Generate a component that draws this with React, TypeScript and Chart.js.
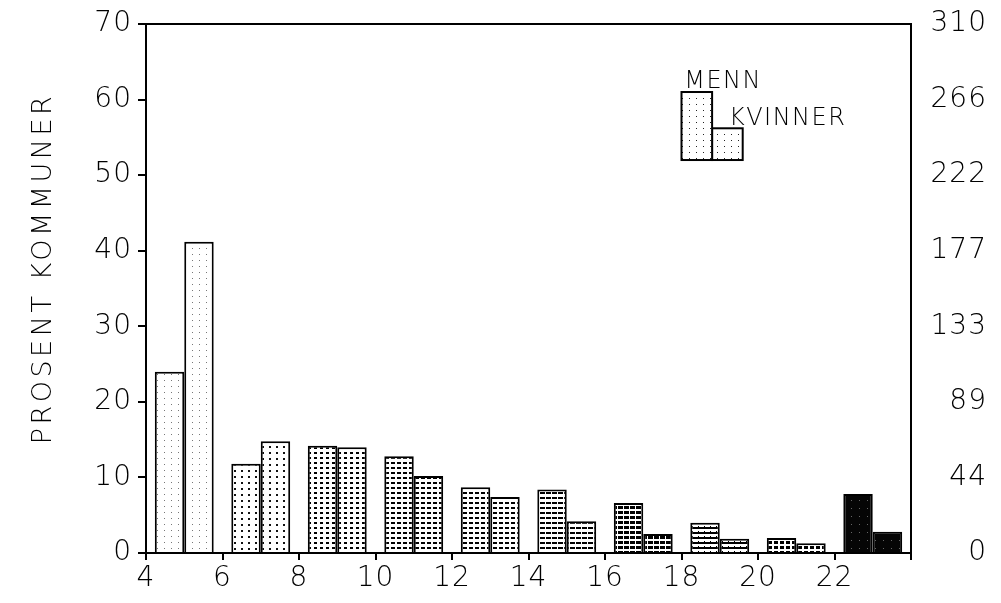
import { useEffect, useRef } from 'react';
import { Chart, registerables } from 'chart.js';

Chart.register(...registerables);

const categories = ['5', '7', '9', '11', '13', '15', '17', '19', '21', '23'];
const menn = [24, 11.8, 14.2, 12.8, 8.7, 8.4, 6.6, 4.0, 2.0, 7.8];
const kvinner = [41.2, 14.8, 14.0, 10.2, 7.4, 4.2, 2.5, 1.9, 1.3, 2.8];
const xTickLabels = ['4', '6', '8', '10', '12', '14', '16', '18', '20', '22', ''];
const rightTickLabels = ['0', '44', '89', '133', '177', '222', '266', '310'];
const yTitle = 'PROSENT KOMMUNER';
const legendLabels = ['MENN', 'KVINNER'];

const FONT = '"DejaVu Sans", sans-serif';

type Mark = [number, number, number, number];

function makeTile(w: number, h: number, bg: string, fg: string, marks: Mark[]) {
  const c = document.createElement('canvas');
  c.width = w;
  c.height = h;
  const g = c.getContext('2d')!;
  g.fillStyle = bg;
  g.fillRect(0, 0, w, h);
  g.fillStyle = fg;
  marks.forEach(([x, y, mw, mh]) => g.fillRect(x, y, mw, mh));
  return c;
}

export default function App() {
  const ref = useRef<HTMLCanvasElement | null>(null);

  useEffect(() => {
    const canvas = ref.current!;
    const ctx = canvas.getContext('2d')!;
    const tiles = [
      makeTile(7, 6, '#fff', '#777', [[3, 2, 1, 1]]),
      makeTile(7, 6, '#fff', '#111', [[3, 2, 2, 2]]),
      makeTile(6, 5, '#fff', '#000', [[2, 2, 3, 2]]),
      makeTile(6, 5, '#fff', '#000', [[1, 2, 4, 2]]),
      makeTile(6, 5, '#fff', '#000', [[1, 2, 4, 2]]),
      makeTile(6, 5, '#fff', '#000', [[0, 2, 5, 2]]),
      makeTile(6, 5, '#fff', '#000', [[0, 1, 5, 3]]),
      makeTile(6, 5, '#fff', '#000', [[0, 2, 6, 2], [2, 1, 1, 1]]),
      makeTile(6, 5, '#fff', '#000', [[0, 1, 4, 3]]),
      makeTile(8, 8, '#050505', '#666', [[3, 4, 1, 1]]),
    ];
    const patterns = tiles.map((t) => ctx.createPattern(t, 'repeat')!);
    const legendPattern = ctx.createPattern(makeTile(7, 6, '#fff', '#222', [[3, 2, 1, 1]]), 'repeat')!;

    const decor = {
      id: 'decor',
      beforeDraw(chart: any) {
        chart.ctx.letterSpacing = '1px';
      },
      afterDraw(chart: any) {
        const c = chart.ctx;
        const { left, right, top, bottom } = chart.chartArea;
        const xs = chart.scales.x2;
        const ys = chart.scales.y;
        c.save();
        // top frame line
        c.strokeStyle = '#000';
        c.lineWidth = 2;
        c.beginPath();
        c.moveTo(left - 1, top);
        c.lineTo(right + 1, top);
        c.stroke();
        // y title
        c.save();
        c.translate(44, (top + bottom) / 2 - 20);
        c.rotate(-Math.PI / 2);
        c.font = `200 27px ${FONT}`;
        c.letterSpacing = '3.5px';
        c.fillStyle = '#000';
        c.textAlign = 'center';
        c.textBaseline = 'middle';
        c.fillText(yTitle, 0, 0);
        c.restore();
        // legend
        const box = (x0: number, x1: number, y0: number, y1: number) => {
          const px0 = xs.getPixelForValue(x0);
          const px1 = xs.getPixelForValue(x1);
          const py0 = ys.getPixelForValue(y0);
          const py1 = ys.getPixelForValue(y1);
          c.fillStyle = legendPattern;
          c.fillRect(px0, py1, px1 - px0, py0 - py1);
          c.lineWidth = 2;
          c.strokeStyle = '#000';
          c.strokeRect(px0, py1, px1 - px0, py0 - py1);
        };
        box(18.8, 19.6, 52, 56.2);
        box(18.0, 18.8, 52, 61);
        c.font = `200 24px ${FONT}`;
        c.letterSpacing = '1.5px';
        c.fillStyle = '#000';
        c.textAlign = 'left';
        c.textBaseline = 'alphabetic';
        c.fillText(legendLabels[0], xs.getPixelForValue(18.07), ys.getPixelForValue(61.5));
        c.fillText(legendLabels[1], xs.getPixelForValue(19.24), ys.getPixelForValue(56.6));
        c.restore();
      },
    };

    const tickFont = { family: FONT, size: 28, weight: '200' as any };
    const noVPad = (s: any, w: number) => {
      s.width = w;
      s.paddingTop = 0;
      s.paddingBottom = 0;
    };

    const chart = new Chart(canvas, {
      type: 'bar',
      data: {
        labels: categories,
        datasets: [
          {
            label: legendLabels[0],
            data: menn,
            backgroundColor: (c: any) => patterns[c.dataIndex] || '#fff',
            borderColor: '#000',
            borderWidth: 2,
            xAxisID: 'x',
            yAxisID: 'y',
          },
          {
            label: legendLabels[1],
            data: kvinner,
            backgroundColor: (c: any) => patterns[c.dataIndex] || '#fff',
            borderColor: '#000',
            borderWidth: 2,
            xAxisID: 'x',
            yAxisID: 'y',
          },
        ],
      },
      options: {
        animation: false,
        responsive: true,
        maintainAspectRatio: false,
        layout: { padding: { top: 24, left: 0, right: 14, bottom: 0 } },
        datasets: { bar: { categoryPercentage: 0.77, barPercentage: 1.0 } },
        plugins: { legend: { display: false }, tooltip: { enabled: false } },
        scales: {
          x: { type: 'category', display: false, offset: true },
          x2: {
            type: 'linear',
            position: 'bottom',
            min: 4,
            max: 24,
            offset: false,
            grid: { offset: false, drawOnChartArea: false, drawTicks: true, tickLength: 7, color: '#000', lineWidth: 2 },
            border: { display: true, color: '#000', width: 2 },
            ticks: {
              stepSize: 2,
              autoSkip: false,
              maxRotation: 0,
              color: '#000',
              font: tickFont,
              padding: 2,
              callback: (_v: any, i: number) => xTickLabels[i],
            },
            afterFit: (s: any) => {
              s.height = 50;
              s.paddingLeft = 0;
              s.paddingRight = 0;
            },
          },
          y: {
            position: 'left',
            min: 0,
            max: 70,
            grid: { drawOnChartArea: false, drawTicks: true, tickLength: 8, color: '#000', lineWidth: 2 },
            border: { display: true, color: '#000', width: 2 },
            ticks: { stepSize: 10, color: '#000', font: tickFont, padding: 6 },
            afterFit: (s: any) => noVPad(s, 146),
          },
          y2: {
            position: 'right',
            min: 0,
            max: 70,
            grid: { drawOnChartArea: false, drawTicks: false },
            border: { display: true, color: '#000', width: 2 },
            ticks: {
              stepSize: 10,
              color: '#000',
              font: tickFont,
              padding: 9,
              crossAlign: 'far',
              callback: (_v: any, i: number) => rightTickLabels[i],
            },
            afterFit: (s: any) => noVPad(s, 76),
          },
        },
      },
      plugins: [decor],
    } as any);

    return () => chart.destroy();
  }, []);

  return (
    <div style={{ position: 'absolute', left: 0, top: 0, width: 1001, height: 603, background: '#fff' }}>
      <canvas ref={ref} />
    </div>
  );
}
